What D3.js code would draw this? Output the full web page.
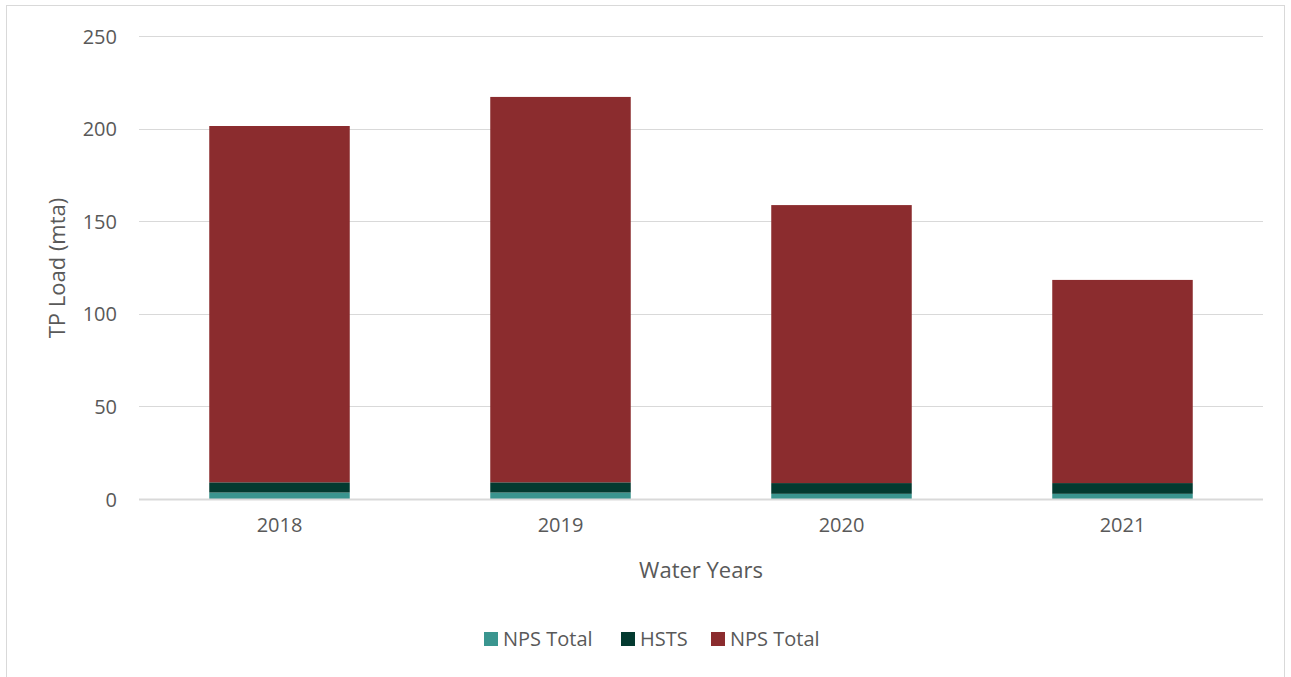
<!DOCTYPE html>
<html lang="en">
<head>
<meta charset="utf-8">
<script src="https://d3js.org/d3.v7.min.js"></script>
<style>
  body { margin: 0; background: #fff; }
  text { font-family: "Open Sans", "Liberation Sans", sans-serif; fill: #595959; }
</style>
</head>
<body>
<svg id="chart" width="1291" height="677"></svg>
<script>
// data
var years = ["2018", "2019", "2020", "2021"];
var npsTotalLow = [3.5, 3.5, 2.8, 2.8];
var hsts = [5.5, 5.5, 5.8, 5.8];
var npsTotal = [192.4, 208.1, 150.1, 109.7];
var seriesNames = ["NPS Total", "HSTS", "NPS Total"];
var seriesColors = ["#3A958F", "#033A30", "#8B2C2E"];
var yTicks = [0, 50, 100, 150, 200, 250];

var svg = d3.select("#chart");
var plotLeft = 139, plotRight = 1263, plotTop = 36, plotBottom = 499;

// outer frame
svg.append("rect").attr("x", 6.5).attr("y", 5.5).attr("width", 1278).attr("height", 680)
  .attr("fill", "none").attr("stroke", "#D9D9D9").attr("stroke-width", 1);

var x = d3.scaleBand().domain(years).range([plotLeft, plotRight]).paddingInner(0.5).paddingOuter(0.25);
var y = d3.scaleLinear().domain([0, 250]).range([plotBottom, plotTop]);

// gridlines
svg.append("g").selectAll("line").data(yTicks).enter().append("line")
  .attr("x1", plotLeft).attr("x2", plotRight)
  .attr("y1", function(d) { return Math.round(y(d)) + 0.5; })
  .attr("y2", function(d) { return Math.round(y(d)) + 0.5; })
  .attr("stroke", "#D9D9D9").attr("stroke-width", 1);

// stacked bars
var rows = years.map(function(yr, i) { return { year: yr, a: npsTotalLow[i], b: hsts[i], c: npsTotal[i] }; });
var stack = d3.stack().keys(["a", "b", "c"])(rows);
svg.append("g").selectAll("g").data(stack).enter().append("g")
  .attr("fill", function(d, i) { return seriesColors[i]; })
  .selectAll("rect").data(function(d) { return d; }).enter().append("rect")
  .attr("x", function(d) { return x(d.data.year); })
  .attr("width", x.bandwidth())
  .attr("y", function(d) { return y(d[1]); })
  .attr("height", function(d) { return y(d[0]) - y(d[1]); });

// baseline
svg.append("line").attr("x1", plotLeft).attr("x2", plotRight).attr("y1", plotBottom + 0.5).attr("y2", plotBottom + 0.5)
  .attr("stroke", "#D9D9D9").attr("stroke-width", 2);

// y axis labels
var yAxis = d3.axisLeft(y).tickValues(yTicks).tickSize(0).tickPadding(0);
var ya = svg.append("g").attr("transform", "translate(" + (plotLeft - 22) + ",0)").call(yAxis);
ya.select(".domain").remove();
ya.selectAll("text").style("font-size", "20px").style("font-family", null).attr("dy", "0.35em").attr("fill", "#595959");
ya.attr("font-family", null);

// x axis labels
var xAxis = d3.axisBottom(x).tickSize(0).tickPadding(0);
var xa = svg.append("g").attr("transform", "translate(0," + (plotBottom + 19) + ")").call(xAxis);
xa.select(".domain").remove();
xa.selectAll("text").style("font-size", "20px").attr("dy", "0.71em").attr("fill", "#595959");
xa.attr("font-family", null);

// axis titles
svg.append("text").attr("x", 701).attr("y", 578).attr("text-anchor", "middle")
  .style("font-size", "22px").text("Water Years");
svg.append("text").attr("transform", "translate(65,268) rotate(-90)").attr("text-anchor", "middle")
  .style("font-size", "22px").text("TP Load (mta)");

// legend
var legendX = [484, 621, 711];
var lg = svg.append("g").selectAll("g").data(seriesNames).enter().append("g")
  .attr("transform", function(d, i) { return "translate(" + legendX[i] + ",632)"; });
lg.append("rect").attr("width", 14).attr("height", 14).attr("fill", function(d, i) { return seriesColors[i]; });
lg.append("text").attr("x", 19).attr("y", 7).attr("dy", "0.35em").style("font-size", "20px")
  .text(function(d) { return d; });
</script>
</body>
</html>
